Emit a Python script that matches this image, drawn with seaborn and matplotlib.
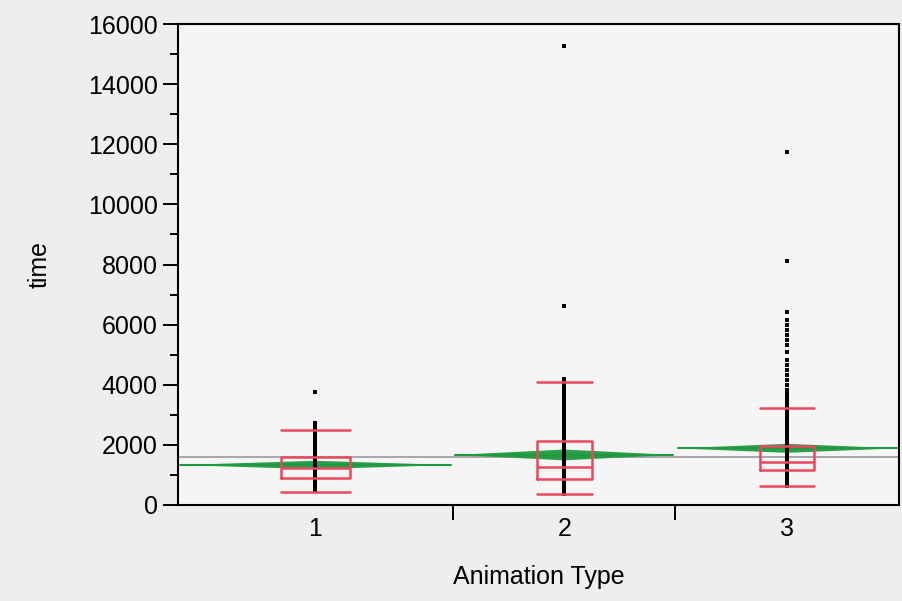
import matplotlib
matplotlib.use('Agg')  # no display
import matplotlib.pyplot as plt
import pandas as pd
import seaborn as sns

groups = ['1', '2', '3']

# individual times (dense columns approximated by visible dots)
time_1 = [3770, 2720, 2650, 2580, 2495, 2410, 2330, 2260, 2180, 2095, 2020, 1940,
          1870, 1795, 1720, 1655, 1580, 1510, 1455, 1390, 1335, 1280, 1230, 1175,
          1120, 1070, 1015, 960, 910, 860, 800, 745, 690, 630, 575, 515, 470]
time_2 = [15270, 6620, 4190, 4080, 3980, 3870, 3760, 3660, 3550, 3450, 3340, 3240,
          3130, 3030, 2930, 2820, 2720, 2610, 2520, 2420, 2330, 2240, 2160, 2080,
          2010, 1940, 1870, 1810, 1750, 1690, 1630, 1575, 1520, 1465, 1410, 1360,
          1310, 1260, 1210, 1160, 1110, 1060, 1010, 960, 910, 860, 805, 750, 690,
          630, 570, 505, 440, 370]
time_3 = [11745, 8115, 6430, 6155, 5990, 5820, 5655, 5490, 5325, 5100, 4825, 4655,
          4490, 4325, 4160, 3995, 3830, 3715, 3620, 3530, 3440, 3350, 3265, 3180,
          3100, 3010, 2930, 2850, 2760, 2680, 2600, 2520, 2440, 2360, 2280, 2200,
          2120, 2050, 1980, 1910, 1840, 1780, 1720, 1660, 1600, 1540, 1480, 1420,
          1360, 1300, 1240, 1180, 1120, 1060, 1000, 940, 880, 820, 760, 700, 635]

# quantile box summary per group
q1 = [890, 855, 1165]
median = [1240, 1265, 1440]
q3 = [1590, 2130, 1965]
whisker_lo = [440, 365, 630]
whisker_hi = [2485, 4100, 3215]

# means diamonds
group_mean = [1330, 1665, 1885]
mean_ci = [140, 180, 150]
grand_mean = 1605

# layout (JMP style: group columns of unequal width)
EDGES = [0.0, 0.3814, 0.690, 1.0]
CENTERS = [(EDGES[i] + EDGES[i + 1]) / 2 for i in range(3)]
BOX_W = [0.097, 0.076, 0.075]
RED = '#e8485f'
GREEN = '#1f9a3f'

sns.set_theme(style='ticks')
plt.rcParams['font.family'] = ['Liberation Sans', 'DejaVu Sans']
plt.rcParams['text.color'] = 'black'
plt.rcParams['axes.labelcolor'] = 'black'

df = pd.DataFrame({
    'group': ['1'] * len(time_1) + ['2'] * len(time_2) + ['3'] * len(time_3),
    'time': time_1 + time_2 + time_3,
})
df['x'] = df['group'].map(dict(zip(groups, CENTERS)))

fig = plt.figure(figsize=(9.03, 6.01), dpi=100, facecolor='#efeeec')
ax = fig.add_axes([178 / 903, 1 - 505 / 601, 721 / 903, 481 / 601])
ax.set_facecolor('#f5f5f5')

# grand mean line
ax.axhline(grand_mean, color='#a6a6a6', lw=1.4, zorder=1)

# means diamonds
for i in range(3):
    l, r = EDGES[i] + 0.003, EDGES[i + 1] - 0.003
    c, m, h = CENTERS[i], group_mean[i], mean_ci[i]
    ax.fill([l, c, r, c], [m, m + h, m, m - h], color=GREEN, lw=0, alpha=0.95, zorder=2)
    ax.plot([l, r], [m, m], color=GREEN, lw=1.5, zorder=2)

stats = [dict(q1=q1[i], med=median[i], q3=q3[i], whislo=whisker_lo[i],
              whishi=whisker_hi[i], fliers=[]) for i in range(3)]
lp = dict(color=RED, lw=1.8)
bp = ax.bxp(stats, positions=CENTERS, widths=BOX_W, capwidths=BOX_W,
            showfliers=False, manage_ticks=False, patch_artist=False,
            boxprops=lp, whiskerprops=lp, capprops=lp, medianprops=lp)
for k in bp:
    for art in bp[k]:
        art.set_zorder(2.5 if k == 'whiskers' else 4)

sns.scatterplot(data=df, x='x', y='time', marker='s', s=12, color='black',
                linewidth=0, ax=ax, zorder=3, legend=False)

ax.set_xlim(0, 1)
ax.set_ylim(0, 16000)
ax.set_yticks(range(0, 16001, 2000))
ax.set_yticks(range(1000, 16000, 2000), minor=True)
ax.set_xticks(CENTERS, groups)
ax.set_xticks(EDGES[1:3], minor=True)

ax.tick_params(axis='y', which='major', length=11, width=1.4, pad=3.5,
               labelsize=18, colors='black')
ax.tick_params(axis='y', which='minor', length=6, width=1.4, colors='black')
ax.tick_params(axis='x', which='major', length=0, pad=9, labelsize=18,
               colors='black')
ax.tick_params(axis='x', which='minor', length=11, width=1.4, colors='black')

for s in ax.spines.values():
    s.set_linewidth(1.5)
    s.set_color('black')

ax.set_xlabel('Animation Type', fontsize=18, labelpad=17)
ax.set_ylabel('time', fontsize=18, labelpad=26)

fig.savefig('out.png', dpi=100, facecolor=fig.get_facecolor())
